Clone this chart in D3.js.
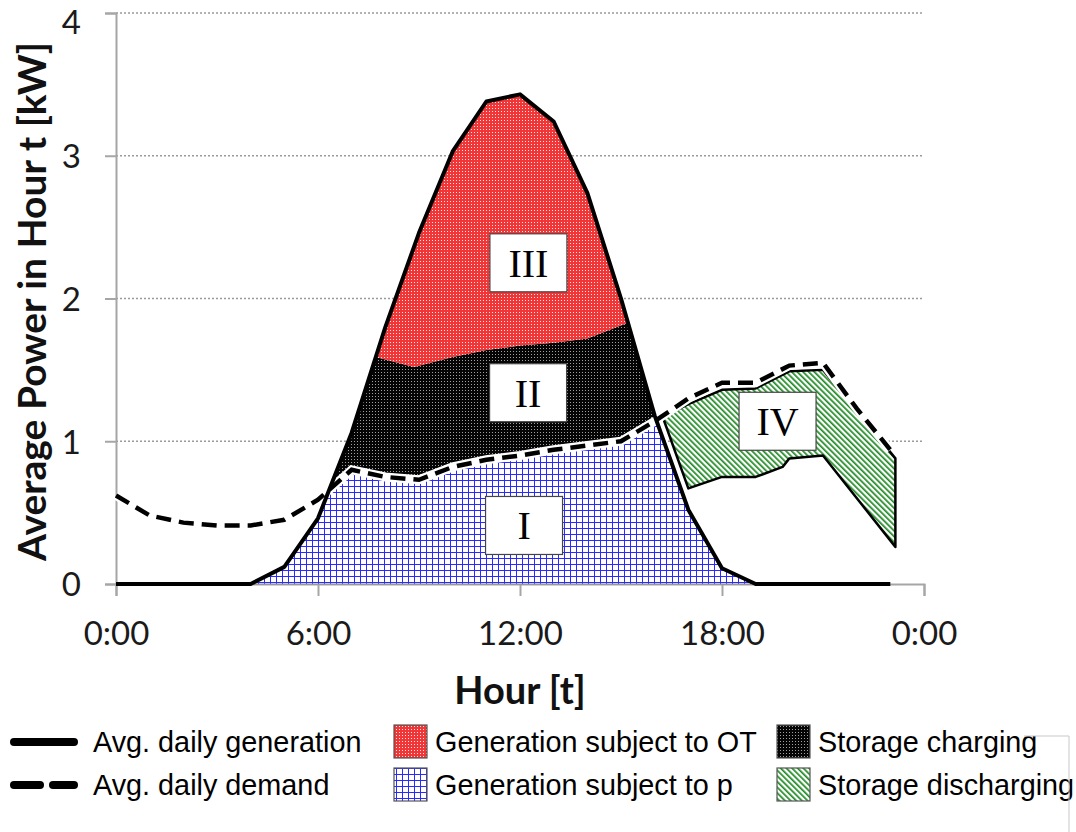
<!DOCTYPE html>
<html>
<head>
<meta charset="utf-8">
<script src="https://cdn.jsdelivr.net/npm/d3@7"></script>
<style>
  body { margin: 0; background: #fff; }
  svg { display: block; }
</style>
</head>
<body>
<svg id="chart" width="1076" height="832"></svg>
<script>
// ---- data (kW per hour of day) ----
const hours = [0,1,2,3,4,5,6,7,8,9,10,11,12,13,14,15,16,17,18,19,20,21,22,23];
const generation = [0,0,0,0,0,0.12,0.46,1.06,1.80,2.46,3.03,3.38,3.43,3.24,2.74,2.00,1.18,0.52,0.11,0,0,0,0,0];
const demand = [0.62,0.48,0.43,0.41,0.41,0.45,0.59,0.80,0.75,0.73,0.82,0.87,0.90,0.94,0.97,1.00,1.14,1.30,1.41,1.41,1.53,1.55,1.23,0.94];

// upper edge of the storage-charging band: [hour, kW]
const chargeTop = [[7.72,1.59],[8.85,1.52],[10,1.59],[11,1.64],[12,1.67],[13,1.69],[14,1.72],[15.2,1.83]];

// storage-discharging band: [hour, kW]
const dischargeTop = [[16.24,1.17],[17,1.26],[18,1.36],[19,1.37],[20,1.49],[21,1.50],[23.15,0.88]];
const dischargeBottom = [[16.24,1.17],[17,0.67],[18,0.75],[19,0.75],[19.8,0.82],[20,0.88],[21,0.90],[23.15,0.26]];

const yTicks = [0,1,2,3,4];
const xTicks = [0,6,12,18,24];
const xTickLabels = ["0:00","6:00","12:00","18:00","0:00"];

const regionLabels = [
  {text: "III", hour: 12.25, kw: 2.25},
  {text: "II",  hour: 12.24, kw: 1.34},
  {text: "I",   hour: 12.12, kw: 0.41},
  {text: "IV",  hour: 19.65, kw: 1.14}
];

const legendLines = [
  {label: "Avg. daily generation", dash: null},
  {label: "Avg. daily demand", dash: "dash"}
];
const legendSwatches = [
  {label: "Generation subject to OT", fill: "url(#pRed)", col: 0, row: 0},
  {label: "Generation subject to p", fill: "url(#pBlue)", col: 0, row: 1},
  {label: "Storage charging", fill: "url(#pBlack)", col: 1, row: 0},
  {label: "Storage discharging", fill: "url(#pGreen)", col: 1, row: 1}
];

// ---- layout ----
const svg = d3.select("#chart");
const x = d3.scaleLinear().domain([0, 24]).range([116, 924]);
const y = d3.scaleLinear().domain([0, 4]).range([584, 13]);

// ---- fill patterns ----
const defs = svg.append("defs");
const pRed = defs.append("pattern").attr("id", "pRed").attr("patternUnits", "userSpaceOnUse").attr("width", 3).attr("height", 3);
pRed.append("rect").attr("width", 3).attr("height", 3).attr("fill", "#f03636");
pRed.append("rect").attr("width", 1).attr("height", 1).attr("fill", "#ffe6e6");

const pBlack = defs.append("pattern").attr("id", "pBlack").attr("patternUnits", "userSpaceOnUse").attr("width", 3).attr("height", 3);
pBlack.append("rect").attr("width", 3).attr("height", 3).attr("fill", "#050505");
pBlack.append("rect").attr("width", 1).attr("height", 1).attr("fill", "#a0a0a0");

const pBlue = defs.append("pattern").attr("id", "pBlue").attr("patternUnits", "userSpaceOnUse").attr("width", 6).attr("height", 6);
pBlue.append("rect").attr("width", 6).attr("height", 6).attr("fill", "#ffffff");
pBlue.append("rect").attr("width", 6).attr("height", 1).attr("fill", "#2a2aff");
pBlue.append("rect").attr("width", 1).attr("height", 6).attr("fill", "#2a2aff");

const pGreen = defs.append("pattern").attr("id", "pGreen").attr("patternUnits", "userSpaceOnUse")
  .attr("width", 4).attr("height", 4).attr("patternTransform", "rotate(-45)");
pGreen.append("rect").attr("width", 4).attr("height", 4).attr("fill", "#ffffff");
pGreen.append("rect").attr("width", 1.7).attr("height", 4).attr("fill", "#1f8a24");

// ---- grid and axes ----
svg.append("g").selectAll("line").data(yTicks.filter(d => d > 0)).join("line")
  .attr("x1", x(0)).attr("x2", x(24))
  .attr("y1", d => y(d)).attr("y2", d => y(d))
  .attr("stroke", "#9a9a9a").attr("stroke-width", 1.5).attr("stroke-dasharray", "2,2");

const yAxis = svg.append("g").attr("transform", `translate(${x(0)},0)`)
  .call(d3.axisLeft(y).tickValues(yTicks).tickSize(11).tickPadding(24).tickFormat(d3.format("d")));
const xAxis = svg.append("g").attr("transform", `translate(0,${y(0)})`)
  .call(d3.axisBottom(x).tickValues(xTicks).tickSize(12).tickPadding(26).tickFormat((d, i) => xTickLabels[i]));
[yAxis, xAxis].forEach(g => {
  g.select(".domain").attr("stroke", "#a6a6a6").attr("stroke-width", 2);
  g.selectAll(".tick line").attr("stroke", "#a6a6a6").attr("stroke-width", 2);
  g.selectAll(".tick text").attr("font-family", "Lato, 'Open Sans', sans-serif").attr("font-size", 33).attr("fill", "#1a1a1a");
});
yAxis.selectAll(".tick text").attr("dy", "0.36em");
// top label nudged down so it stays inside the canvas
yAxis.selectAll(".tick").filter(d => d === 4).select("text").attr("dy", "0.62em");

svg.append("text").attr("transform", `translate(46,${(y(0) + y(4)) / 2 + 3}) rotate(-90)`)
  .attr("text-anchor", "middle").attr("font-family", "Lato, 'Open Sans', sans-serif")
  .attr("font-weight", "bold").attr("font-size", 39).attr("fill", "#111")
  .text("Average Power in Hour t [kW]");
svg.append("text").attr("x", x(12)).attr("y", 704)
  .attr("text-anchor", "middle").attr("font-family", "Lato, 'Open Sans', sans-serif")
  .attr("font-weight", "bold").attr("font-size", 38).attr("fill", "#111")
  .text("Hour [t]");

// ---- regions ----
const genPts = hours.map((h, i) => [h, generation[i]]);
const demPts = hours.map((h, i) => [h, demand[i]]);
const toPx = d => [x(d[0]), y(d[1])];
const lineGen = d3.line();
const polygon = (top, bottom) => lineGen([...top, ...bottom.slice().reverse()].map(toPx)) + "Z";

// point where the generation and demand curves meet between hour i and i+1
function crossing(i) {
  const g0 = generation[i], g1 = generation[i + 1], d0 = demand[i], d1 = demand[i + 1];
  const t = (d0 - g0) / ((g1 - g0) - (d1 - d0));
  return [hours[i] + t, g0 + t * (g1 - g0)];
}
const cLeft = crossing(6), cRight = crossing(16);

// I: generation covering demand
const regionI = [...genPts.slice(4, 7), cLeft, ...demPts.slice(7, 17), cRight, ...genPts.slice(17, 20)];
svg.append("path").attr("d", polygon(regionI, [[4, 0], [19, 0]]))
  .attr("fill", "url(#pBlue)").attr("stroke", "#8a8a8a").attr("stroke-width", 1.2);

// II: storage charging
const regionIITop = [cLeft, genPts[7], ...chargeTop, genPts[16], cRight];
svg.append("path").attr("d", polygon(regionIITop, demPts.slice(7, 17)))
  .attr("fill", "url(#pBlack)");

// III: generation subject to OT
const regionIIITop = [chargeTop[0], ...genPts.slice(8, 16), chargeTop[chargeTop.length - 1]];
svg.append("path").attr("d", polygon(regionIIITop, chargeTop))
  .attr("fill", "url(#pRed)");

// IV: storage discharging
svg.append("path").attr("d", polygon(dischargeTop, dischargeBottom))
  .attr("fill", "url(#pGreen)").attr("stroke", "#000").attr("stroke-width", 2.5).attr("stroke-linejoin", "round");

// ---- lines ----
svg.append("path").attr("d", lineGen(demPts.map(toPx)))
  .attr("fill", "none").attr("stroke", "#fff").attr("stroke-width", 9);
svg.append("path").attr("d", lineGen(demPts.map(toPx)))
  .attr("fill", "none").attr("stroke", "#000").attr("stroke-width", 4.5)
  .attr("stroke-dasharray", "15,8");
svg.append("path").attr("d", lineGen(genPts.map(toPx)))
  .attr("fill", "none").attr("stroke", "#000").attr("stroke-width", 4).attr("stroke-linejoin", "round");

// ---- region labels ----
const lab = svg.append("g").selectAll("g").data(regionLabels).join("g")
  .attr("transform", d => `translate(${x(d.hour)},${y(d.kw)})`);
lab.append("rect").attr("x", -38.5).attr("y", -29).attr("width", 77).attr("height", 58)
  .attr("fill", "#fff").attr("stroke", "#444").attr("stroke-width", 1.2);
lab.append("text").attr("text-anchor", "middle").attr("dy", "0.35em")
  .attr("font-family", "'Liberation Serif', 'Times New Roman', serif").attr("font-size", 40).attr("fill", "#000")
  .text(d => d.text);

// ---- legend ----
const legend = svg.append("g").attr("font-family", "'Liberation Sans', Arial, sans-serif").attr("font-size", 28.8).attr("fill", "#000");
const rowY = [742, 785];
legendLines.forEach((d, i) => {
  const ly = rowY[i];
  if (d.dash) {
    legend.append("line").attr("x1", 14).attr("x2", 40).attr("y1", ly).attr("y2", ly)
      .attr("stroke", "#000").attr("stroke-width", 8).attr("stroke-linecap", "round");
    legend.append("line").attr("x1", 53).attr("x2", 74).attr("y1", ly).attr("y2", ly)
      .attr("stroke", "#000").attr("stroke-width", 8).attr("stroke-linecap", "round");
  } else {
    legend.append("line").attr("x1", 14).attr("x2", 74).attr("y1", ly).attr("y2", ly)
      .attr("stroke", "#000").attr("stroke-width", 8).attr("stroke-linecap", "round");
  }
  legend.append("text").attr("x", 93).attr("y", ly + 10).text(d.label);
});
const colX = [394, 777];
legendSwatches.forEach(d => {
  const sx = colX[d.col], sy = rowY[d.row] - 17;
  legend.append("rect").attr("x", sx).attr("y", sy).attr("width", 33).attr("height", 33)
    .attr("fill", d.fill).attr("stroke", "#555").attr("stroke-width", 1.2);
  legend.append("text").attr("x", sx + 41).attr("y", rowY[d.row] + 10).text(d.label);
});
// legend frame edge
svg.append("path").attr("d", "M1024,736H1069V832").attr("fill", "none").attr("stroke", "#c8c8c8").attr("stroke-width", 1);
</script>
</body>
</html>
